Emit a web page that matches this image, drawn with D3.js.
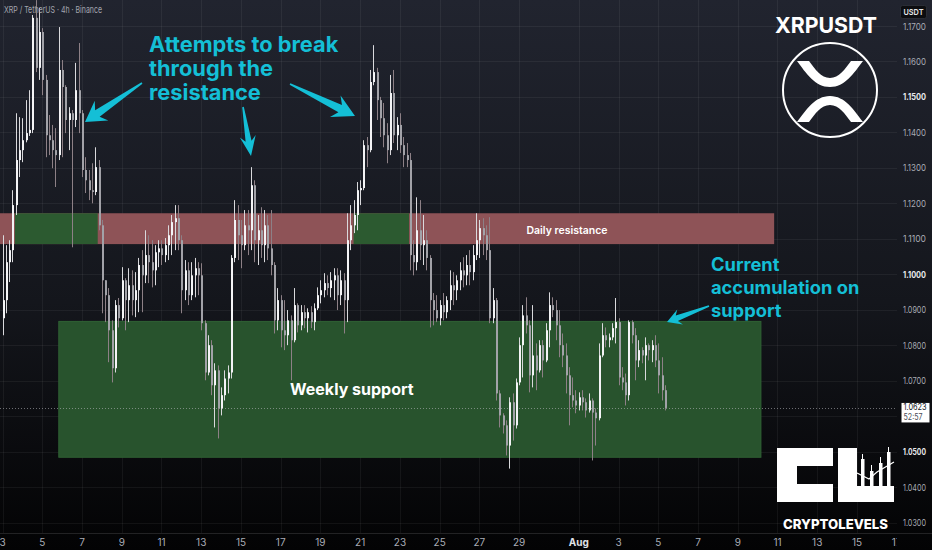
<!DOCTYPE html>
<html><head><meta charset="utf-8">
<script src="https://cdn.jsdelivr.net/npm/d3@7"></script>
<style>html,body{margin:0;padding:0;background:#000;}svg{display:block;}</style>
</head><body>
<svg id="chart" width="932" height="550"></svg>
<script>
// ---------- DATA ----------
const firstCandle = "2025-07-03T00:00:00Z";
const candleHours = 4;
const opens = [1.0876,1.0927,1.1034,1.1068,1.1195,1.1322,1.1350,1.1378,1.1398,1.1407,
1.1723,1.1582,1.1683,1.1548,1.1392,1.1378,1.1350,1.1336,1.1576,1.1528,
1.1435,1.1454,1.1435,1.1519,1.1454,1.1294,1.1265,1.1237,1.1232,1.1302,
1.1138,1.0983,1.0941,1.0842,1.0735,1.0913,1.0876,1.0983,1.0927,1.0969,
1.0927,1.0955,1.1026,1.0997,1.1054,1.1034,1.1011,1.1062,1.1073,1.1054,
1.1082,1.1110,1.1147,1.1158,1.1096,1.0955,1.1011,1.0941,1.0997,1.1017,
1.0997,1.0862,1.0723,1.0800,1.0687,1.0729,1.0622,1.0659,1.0706,1.0723,
1.1046,1.1153,1.1110,1.1082,1.1138,1.1124,1.1251,1.1096,1.1124,1.1082,
1.1138,1.1073,1.1026,1.0870,1.0927,1.0842,1.0828,1.0870,1.0814,1.0913,
1.0856,1.0893,1.0876,1.0893,1.0865,1.0904,1.0941,1.0955,1.0975,1.0961,
1.0983,1.0997,1.0941,1.0983,1.0927,1.1096,1.1138,1.1167,1.1237,1.1243,
1.1364,1.1350,1.1542,1.1570,1.1491,1.1440,1.1392,1.1350,1.1511,1.1392,
1.1421,1.1364,1.1336,1.1322,1.1054,1.1034,1.1124,1.1082,1.1096,1.1046,
1.0927,1.0899,1.0876,1.0913,1.0893,1.0927,1.0969,1.0955,1.0983,1.1011,
1.0997,1.1026,1.1006,1.1054,1.1096,1.1130,1.1110,1.1068,1.0876,1.0927,
1.0664,1.0602,1.0574,1.0517,1.0639,1.0574,1.0695,1.0800,1.0884,1.0856,
1.0715,1.0771,1.0729,1.0800,1.0757,1.0842,1.0913,1.0899,1.0856,1.0800,
1.0771,1.0715,1.0659,1.0644,1.0630,1.0653,1.0639,1.0616,1.0644,1.0610,
1.0594,1.0771,1.0828,1.0814,1.0822,1.0848,1.0865,1.0709,1.0695,1.0659,
1.0865,1.0828,1.0757,1.0786,1.0771,1.0800,1.0786,1.0800,1.0757,1.0715,
1.0673];
const highs = [1.1110,1.1082,1.1096,1.1237,1.1454,1.1443,1.1440,1.1491,1.1519,1.1731,
1.1773,1.1751,1.1694,1.1562,1.1449,1.1421,1.1412,1.1697,1.1604,1.1533,
1.1471,1.1463,1.1596,1.1652,1.1463,1.1330,1.1294,1.1313,1.1358,1.1322,
1.1153,1.0983,1.0961,1.0870,1.0927,1.0933,1.1020,1.0989,1.1017,1.1011,
1.1006,1.1046,1.1068,1.1124,1.1110,1.1096,1.1082,1.1096,1.1096,1.1102,
1.1138,1.1167,1.1195,1.1195,1.1110,1.1040,1.1034,1.1034,1.1046,1.1034,
1.1031,1.0870,1.0828,1.0814,1.0749,1.0743,1.0681,1.0729,1.0743,1.1054,
1.1209,1.1195,1.1153,1.1181,1.1181,1.1302,1.1265,1.1167,1.1189,1.1181,
1.1167,1.1181,1.1034,1.0961,1.0941,1.0927,1.0899,1.0884,1.0961,1.0918,
1.0913,1.0913,1.0904,1.0910,1.0918,1.0963,1.0983,1.1003,1.0997,1.1006,
1.1017,1.1017,1.1011,1.1003,1.1172,1.1195,1.1209,1.1260,1.1265,1.1378,
1.1387,1.1576,1.1646,1.1582,1.1500,1.1483,1.1426,1.1562,1.1576,1.1443,
1.1454,1.1387,1.1370,1.1342,1.1096,1.1217,1.1209,1.1167,1.1124,1.1054,
1.0947,1.0941,1.0927,1.0947,1.0938,1.1011,1.1006,1.0997,1.1034,1.1048,
1.1054,1.1068,1.1082,1.1172,1.1153,1.1158,1.1138,1.1161,1.0961,1.0933,
1.0673,1.0608,1.0588,1.0653,1.0664,1.0706,1.0822,1.0913,1.0935,1.0870,
1.0913,1.0805,1.0814,1.0814,1.0862,1.0949,1.0935,1.0927,1.0899,1.0833,
1.0805,1.0738,1.0709,1.0673,1.0667,1.0673,1.0650,1.0664,1.0650,1.0622,
1.0805,1.0862,1.0850,1.0833,1.0862,1.0933,1.0876,1.0738,1.0720,1.0870,
1.0870,1.0848,1.0814,1.0794,1.0822,1.0805,1.0814,1.0828,1.0805,1.0766,
1.0687];
const lows = [1.0828,1.0890,1.0978,1.1034,1.1167,1.1274,1.1316,1.1372,1.1390,1.1398,
1.1570,1.1548,1.1505,1.1330,1.1336,1.1299,1.1246,1.1322,1.1330,1.1398,
1.1350,1.1076,1.1415,1.1398,1.1274,1.1229,1.1209,1.1200,1.1223,1.1124,
1.0890,1.0865,1.0752,1.0695,1.0723,1.0850,1.0870,1.0842,1.0865,1.0884,
1.0879,1.0893,1.0893,1.0975,1.0975,1.0963,1.0969,1.1020,1.1026,1.1034,
1.1040,1.1054,1.1068,1.1068,1.0890,1.0927,1.0913,1.0927,1.0935,1.0941,
1.0842,1.0701,1.0715,1.0659,1.0568,1.0537,1.0602,1.0644,1.0664,1.0706,
1.1034,1.1040,1.1017,1.1068,1.1054,1.1068,1.1034,1.1026,1.1046,1.1034,
1.1040,1.0997,1.0833,1.0842,1.0794,1.0786,1.0800,1.0701,1.0808,1.0836,
1.0842,1.0848,1.0836,1.0848,1.0842,1.0899,1.0918,1.0935,1.0941,1.0935,
1.0927,1.0899,1.0913,1.0833,1.0865,1.1068,1.1116,1.1124,1.1195,1.1237,
1.1302,1.1344,1.1533,1.1435,1.1387,1.1358,1.1313,1.1336,1.1370,1.1350,
1.1342,1.1302,1.1302,1.1011,1.0997,1.1011,1.1040,1.1026,1.1011,1.0850,
1.0856,1.0865,1.0856,1.0870,1.0876,1.0899,1.0913,1.0927,1.0955,1.0963,
1.0969,1.0969,1.0983,1.1040,1.1046,1.1054,1.1040,1.0862,1.0862,1.0644,
1.0568,1.0551,1.0489,1.0452,1.0531,1.0565,1.0687,1.0709,1.0833,1.0667,
1.0681,1.0673,1.0723,1.0709,1.0752,1.0794,1.0879,1.0814,1.0766,1.0738,
1.0664,1.0574,1.0625,1.0608,1.0616,1.0616,1.0596,1.0610,1.0475,1.0517,
1.0588,1.0766,1.0794,1.0794,1.0814,1.0805,1.0687,1.0673,1.0630,1.0644,
1.0805,1.0701,1.0738,1.0749,1.0701,1.0757,1.0752,1.0738,1.0664,1.0644,
1.0616];
const closes = [1.0927,1.1034,1.1068,1.1195,1.1322,1.1350,1.1378,1.1398,1.1407,1.1723,
1.1582,1.1683,1.1548,1.1392,1.1378,1.1350,1.1336,1.1576,1.1528,1.1435,
1.1454,1.1435,1.1519,1.1454,1.1294,1.1265,1.1237,1.1232,1.1302,1.1138,
1.0983,1.0941,1.0842,1.0735,1.0913,1.0876,1.0983,1.0927,1.0969,1.0927,
1.0955,1.1026,1.0997,1.1054,1.1034,1.1011,1.1062,1.1073,1.1054,1.1082,
1.1110,1.1147,1.1158,1.1096,1.0955,1.1011,1.0941,1.0997,1.1017,1.0997,
1.0862,1.0723,1.0800,1.0687,1.0729,1.0622,1.0659,1.0706,1.0723,1.1046,
1.1153,1.1110,1.1082,1.1138,1.1124,1.1251,1.1096,1.1124,1.1082,1.1138,
1.1073,1.1026,1.0870,1.0927,1.0842,1.0828,1.0870,1.0814,1.0913,1.0856,
1.0893,1.0876,1.0893,1.0865,1.0904,1.0941,1.0955,1.0975,1.0961,1.0983,
1.0997,1.0941,1.0983,1.0927,1.1096,1.1138,1.1167,1.1237,1.1243,1.1364,
1.1350,1.1542,1.1570,1.1491,1.1440,1.1392,1.1350,1.1511,1.1392,1.1421,
1.1364,1.1336,1.1322,1.1054,1.1034,1.1124,1.1082,1.1096,1.1046,1.0927,
1.0899,1.0876,1.0913,1.0893,1.0927,1.0969,1.0955,1.0983,1.1011,1.0997,
1.1026,1.1006,1.1054,1.1096,1.1130,1.1110,1.1068,1.0876,1.0927,1.0664,
1.0602,1.0574,1.0517,1.0639,1.0574,1.0695,1.0800,1.0884,1.0856,1.0715,
1.0771,1.0729,1.0800,1.0757,1.0842,1.0913,1.0899,1.0856,1.0800,1.0771,
1.0715,1.0659,1.0644,1.0630,1.0653,1.0639,1.0616,1.0644,1.0610,1.0594,
1.0771,1.0828,1.0814,1.0822,1.0848,1.0865,1.0709,1.0695,1.0659,1.0865,
1.0828,1.0757,1.0786,1.0771,1.0800,1.0786,1.0800,1.0757,1.0715,1.0673,
1.0623];
const lastPrice = 1.0623;
const countdown = "52:57";
const priceTicks = [1.17,1.16,1.15,1.14,1.13,1.12,1.11,1.10,1.09,1.08,1.07,1.06,1.05,1.04,1.03];
const boldPriceTicks = [1.15,1.10,1.05];
const timeTickDates = ["2025-07-03","2025-07-05","2025-07-07","2025-07-09","2025-07-11","2025-07-13","2025-07-15","2025-07-17","2025-07-19","2025-07-21","2025-07-23","2025-07-25","2025-07-27","2025-07-29","2025-08-01","2025-08-03","2025-08-05","2025-08-07","2025-08-09","2025-08-11","2025-08-13","2025-08-15","2025-08-17"];
const timeTickLabels = ["3","5","7","9","11","13","15","17","19","21","23","25","27","29","Aug","3","5","7","9","11","13","15","17"];
// zones: [startTime, endTime, priceTop, priceBottom]
const resistanceZone = ["2025-07-02T12:00:00Z","2025-08-10T20:00:00Z",1.1172,1.1085];
const flipZones = [["2025-07-03T15:00:00Z","2025-07-07T19:00:00Z",1.1172,1.1085],
                   ["2025-07-20T16:00:00Z","2025-07-23T11:00:00Z",1.1172,1.1085]];
const supportZone = ["2025-07-05T20:00:00Z","2025-08-10T04:00:00Z",1.0867,1.0484];

// ---------- LAYOUT ----------
const W = 932, H = 550, plotRight = 897, plotBottom = 533;
const svg = d3.select("#chart");
const defs = svg.append("defs");
const g0 = defs.append("linearGradient").attr("id","bg").attr("x1",0).attr("x2",0).attr("y1",0).attr("y2",1);
g0.append("stop").attr("offset","0%").attr("stop-color","#21242f");
g0.append("stop").attr("offset","55%").attr("stop-color","#14161c");
g0.append("stop").attr("offset","100%").attr("stop-color","#030304");
svg.append("rect").attr("width",W).attr("height",H).attr("fill","url(#bg)");
defs.append("clipPath").attr("id","plotclip").append("rect").attr("x",0).attr("y",0).attr("width",plotRight).attr("height",H);

const x = d3.scaleUtc().domain([new Date("2025-07-03T00:00:00Z"), new Date("2025-08-17T00:00:00Z")]).range([2.5, 896.7]);
const y = d3.scaleLinear().domain([1.03, 1.17]).range([522.5, 26]);

// grid
const grid = svg.append("g").attr("clip-path","url(#plotclip)");
grid.selectAll("line.v").data(timeTickDates).join("line")
  .attr("x1", d => Math.round(x(new Date(d+"T00:00:00Z")))+0.5).attr("x2", d => Math.round(x(new Date(d+"T00:00:00Z")))+0.5)
  .attr("y1",0).attr("y2",plotBottom).attr("stroke","rgba(255,255,255,0.055)");
grid.selectAll("line.h").data(priceTicks).join("line")
  .attr("x1",0).attr("x2",plotRight).attr("y1", d => Math.round(y(d))+0.5).attr("y2", d => Math.round(y(d))+0.5)
  .attr("stroke","rgba(255,255,255,0.055)");
svg.append("line").attr("x1",0).attr("x2",W).attr("y1",plotBottom+0.5).attr("y2",plotBottom+0.5).attr("stroke","rgba(255,255,255,0.12)");

// zones
const zoneG = svg.append("g").attr("clip-path","url(#plotclip)");
function zone(z, fill, stroke){
  const x0 = x(new Date(z[0])), x1 = x(new Date(z[1]));
  zoneG.append("rect").attr("x",x0).attr("width",x1-x0).attr("y",y(z[2])).attr("height",y(z[3])-y(z[2]))
    .attr("fill",fill).attr("stroke",stroke||"none").attr("stroke-width",1);
}
zone(resistanceZone,"#8e5357");
flipZones.forEach(z => zone(z,"#2c5a30"));
zone(supportZone,"#28532d","#2f6234");

// current price dotted line
svg.append("line").attr("x1",0).attr("x2",plotRight).attr("y1",Math.round(y(lastPrice))+0.5).attr("y2",Math.round(y(lastPrice))+0.5)
  .attr("stroke","rgba(190,190,195,0.55)").attr("stroke-dasharray","1,2");

// candles
const t0 = new Date(firstCandle).getTime();
const candles = closes.map((c,i) => ({t:new Date(t0 + i*candleHours*3600e3), o:opens[i], h:highs[i], l:lows[i], c:c}));
const cg = svg.append("g").attr("clip-path","url(#plotclip)");
cg.selectAll("line.w").data(candles).join("line")
  .attr("x1", d => Math.round(x(d.t)) + 0.5).attr("x2", d => Math.round(x(d.t)) + 0.5)
  .attr("y1", d => y(d.h)).attr("y2", d => y(d.l))
  .attr("stroke", d => d.c >= d.o ? "#d9d9dc" : "#8d8086").attr("stroke-width",1);
cg.selectAll("rect.b").data(candles).join("rect")
  .attr("x", d => Math.round(x(d.t)))
  .attr("width", 2)
  .attr("y", d => Math.min(y(d.o), y(d.c)))
  .attr("height", d => Math.max(1, Math.abs(y(d.o)-y(d.c))))
  .attr("fill", d => d.c >= d.o ? "#f4f4f6" : "#a2a2a8");

// price axis
const isBold = d => boldPriceTicks.some(b => Math.abs(b-d)<1e-9);
const pa = svg.append("g").attr("font-family","Inter, 'Noto Sans', sans-serif");
pa.selectAll("text").data(priceTicks.filter(p => Math.abs(y(p)-y(lastPrice))>12)).join("text")
  .attr("x",903).attr("y", d => y(d)+3.5)
  .attr("font-size", d => isBold(d) ? 8.6 : 9.2)
  .attr("fill", d => isBold(d) ? "#e8e9ec" : "#a9acb5")
  .attr("font-weight", d => isBold(d) ? 700 : 400)
  .attr("textLength",23).attr("lengthAdjust","spacingAndGlyphs")
  .text(d => d.toFixed(4));
// USDT box
svg.append("rect").attr("x",900.5).attr("y",5.5).attr("width",26).attr("height",13).attr("rx",2).attr("fill","#0c0d10").attr("stroke","#2a2d35");
svg.append("text").attr("x",913.5).attr("y",15).attr("text-anchor","middle").attr("font-family","Inter, sans-serif").attr("font-size",8).attr("font-weight",600).attr("fill","#e6e7ea").attr("textLength",20).attr("lengthAdjust","spacingAndGlyphs").text("USDT");
// last price label
const ly = y(lastPrice);
svg.append("rect").attr("x",901.5).attr("y",ly-5).attr("width",28).attr("height",19.5).attr("fill","#ffffff");
svg.append("text").attr("x",903.5).attr("y",ly+2.3).attr("font-family","Inter, sans-serif").attr("font-size",8.3).attr("fill","#131722").attr("textLength",23).attr("lengthAdjust","spacingAndGlyphs").text(lastPrice.toFixed(4));
svg.append("text").attr("x",903.5).attr("y",ly+12).attr("font-family","Inter, sans-serif").attr("font-size",8.3).attr("fill","#4a4d57").attr("textLength",19).attr("lengthAdjust","spacingAndGlyphs").text(countdown);

// time axis
const ta = svg.append("g").attr("clip-path","url(#plotclip)").attr("font-family","Inter, 'Noto Sans', sans-serif").attr("font-size",10);
ta.selectAll("text").data(timeTickDates).join("text")
  .attr("x", d => x(new Date(d+"T00:00:00Z"))).attr("y",546).attr("text-anchor","middle")
  .attr("fill", (d,i) => timeTickLabels[i]==="Aug" ? "#e0e1e5" : "#a9acb5")
  .attr("font-weight", (d,i) => timeTickLabels[i]==="Aug" ? 700 : 400)
  .text((d,i) => timeTickLabels[i]);

// header
svg.append("text").attr("x",4).attr("y",13).attr("font-family","Inter, sans-serif").attr("font-size",9.5).attr("fill","#a3a6af").attr("textLength",98).attr("lengthAdjust","spacingAndGlyphs").text("XRP / TetherUS · 4h · Binance");

// annotations
const cyan = "#14bfd6";
const ann = svg.append("g").attr("font-family","Inter, 'Noto Sans', sans-serif").attr("font-weight",700).attr("fill",cyan);
[["Attempts to break",52],["through the",76],["resistance",100]].forEach(([t,yy]) => ann.append("text").attr("x",149).attr("y",yy).attr("font-size",21.8).text(t));
[["Current",271],["accumulation on",294],["support",317]].forEach(([t,yy]) => ann.append("text").attr("x",711).attr("y",yy).attr("font-size",18.3).text(t));

function arrow(tail, tip, shaftW, headW, headLen){
  const dx = tip[0]-tail[0], dy = tip[1]-tail[1], L = Math.hypot(dx,dy);
  const ux = dx/L, uy = dy/L, nx = -uy, ny = ux;
  const bx = tip[0]-ux*headLen, by = tip[1]-uy*headLen;
  const bbx = tip[0]-ux*(headLen*0.75), bby = tip[1]-uy*(headLen*0.75);
  const pts = [
    [tail[0]+nx*0.8, tail[1]+ny*0.8],
    [bbx+nx*shaftW/2, bby+ny*shaftW/2],
    [bx+nx*headW/2, by+ny*headW/2],
    tip,
    [bx-nx*headW/2, by-ny*headW/2],
    [bbx-nx*shaftW/2, bby-ny*shaftW/2],
    [tail[0]-nx*0.8, tail[1]-ny*0.8]
  ];
  svg.append("path").attr("d","M"+pts.map(p=>p.join(",")).join("L")+"Z").attr("fill",cyan);
}
arrow([142,83],[85,122],8,24,20);
arrow([243,107],[251,156],6,16,20);
arrow([290,84],[355,116],8,24,22);
arrow([709,306],[667,322],6,16,14);

// zone labels
svg.append("text").attr("x",567).attr("y",233.5).attr("text-anchor","middle").attr("font-family","Inter, sans-serif").attr("font-size",10.5).attr("font-weight",600).attr("fill","#ffffff").text("Daily resistance");
svg.append("text").attr("x",290).attr("y",395).attr("font-family","Inter, sans-serif").attr("font-size",16).attr("font-weight",700).attr("fill","#ffffff").text("Weekly support");

// XRPUSDT title + logo
svg.append("text").attr("x",775).attr("y",33).attr("font-family","Inter, sans-serif").attr("font-size",22).attr("font-weight",700).attr("fill","#ffffff").attr("textLength",102).attr("lengthAdjust","spacingAndGlyphs").text("XRPUSDT");
svg.append("circle").attr("cx",830).attr("cy",90).attr("r",47).attr("fill","none").attr("stroke","#ffffff").attr("stroke-width",2);
svg.append("path").attr("fill","#ffffff").attr("d","M797,61 L809,61 C815,69 821,78 830,78 C839,78 845,69 851,61 L863,61 C854,73 845,87 830,87 C815,87 806,73 797,61 Z");
svg.append("path").attr("fill","#ffffff").attr("d","M797,122 L809,122 C815,114 821,105 830,105 C839,105 845,114 851,122 L863,122 C854,110 845,96 830,96 C815,96 806,110 797,122 Z");

// CL logo
svg.append("path").attr("fill","#ffffff").attr("d","M777,448 L833,448 L833,466 L797,466 L797,484 L833,484 L833,502 L777,502 Z");
svg.append("path").attr("fill","#ffffff").attr("d","M838,448 L857,448 L857,486 L894,486 L894,502 L838,502 Z");
const logoC = [[861,454,459,486],[870,465,471,486],[879,457,463,486],[887,447,452,486]];
logoC.forEach(([cx,wt,bt,bb]) => {
  svg.append("line").attr("x1",cx+1.5).attr("x2",cx+1.5).attr("y1",wt).attr("y2",bt).attr("stroke","#ffffff").attr("stroke-width",1);
  svg.append("rect").attr("x",cx).attr("y",bt).attr("width",3.5).attr("height",bb-bt).attr("fill","#ffffff");
});
svg.append("polyline").attr("points","857,473 869,479 877,472 894,462").attr("fill","none").attr("stroke","#ffffff").attr("stroke-width",1.2);
svg.append("text").attr("x",783).attr("y",529).attr("font-family","Inter, sans-serif").attr("font-size",13.5).attr("font-weight",800).attr("fill","#ffffff").attr("textLength",105).attr("lengthAdjust","spacingAndGlyphs").text("CRYPTOLEVELS");
</script>
</body></html>
